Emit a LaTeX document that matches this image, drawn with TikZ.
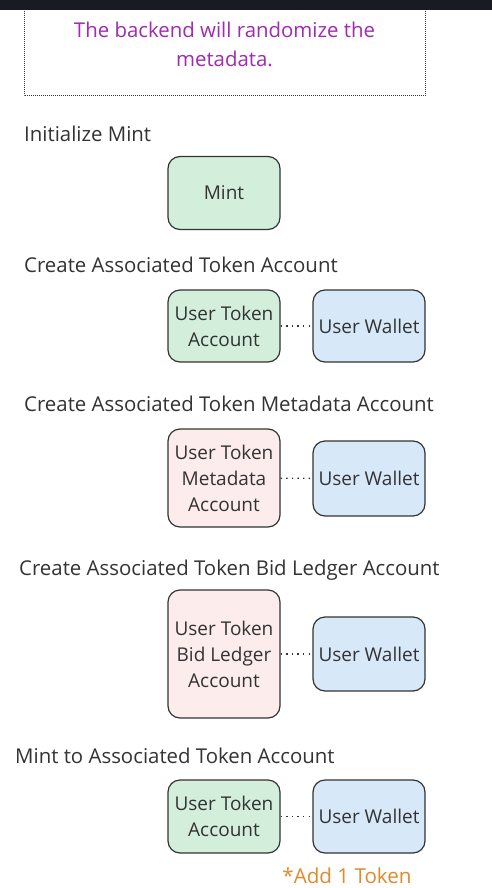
\documentclass[tikz,border=0pt]{standalone}
\usepackage{fontspec}
\setmainfont{Open Sans}
\definecolor{band}{HTML}{181B24}
\definecolor{txt}{HTML}{333333}
\definecolor{purp}{HTML}{A02AB0}
\definecolor{orng}{HTML}{E08A2C}
\definecolor{gfill}{HTML}{D3EFDC}
\definecolor{pfill}{HTML}{FDECEC}
\definecolor{bfill}{HTML}{D7E9F9}
\begin{document}
\begin{tikzpicture}[x=1pt,y=-1pt,
  hdr/.style={anchor=base west,inner sep=0pt,text=txt,font=\fontsize{20.4}{26}\selectfont},
  acct/.style={draw=txt,line width=1.2pt,rounded corners=12pt,minimum width=112pt,align=center,text=txt,inner sep=0pt,font=\fontsize{19}{26}\selectfont},
  green/.style={acct,fill=gfill},
  pink/.style={acct,fill=pfill},
  wallet/.style={acct,fill=bfill},
  link/.style={draw=txt,line width=1.4pt,dash pattern=on 1.4pt off 4.2pt}]
\useasboundingbox (0,0) rectangle (492,888);
\fill[white] (0,0) rectangle (492,888);
% note box
\draw[txt,line width=1pt,dash pattern=on 1pt off 1pt] (24,-5) rectangle (425,96);
\fill[band] (0,0) rectangle (492,10);
\node[anchor=base,inner sep=0pt,text=purp,font=\fontsize{20.4}{26}\selectfont] (n1) at (224.5,38) {The backend will randomize the};
\node[anchor=base,inner sep=0pt,text=purp,font=\fontsize{20.4}{26}\selectfont] (n2) at (224.5,67) {metadata.};
% step 1
\node[hdr] (h1) at (24,141) {Initialize Mint};
\node[green,minimum height=73pt] (mint) at (224,193) {Mint};
% step 2
\node[hdr] (h2) at (24,272) {Create Associated Token Account};
\node[green,minimum height=72pt] (uta1) at (224,326) {User Token\\Account};
\node[wallet,minimum height=72pt] (w1) at (369,326) {User Wallet};
\draw[link] (uta1) -- (w1);
% step 3
\node[hdr] (h3) at (24,411) {Create Associated Token Metadata Account};
\node[pink,minimum height=98pt] (meta) at (224,478) {User Token\\Metadata\\Account};
\node[wallet,minimum height=75pt] (w2) at (369,478.5) {User Wallet};
\draw[link] (meta) -- (w2);
% step 4
\node[hdr] (h4) at (19,575) {Create Associated Token Bid Ledger Account};
\node[pink,minimum height=128pt] (bid) at (224,654) {User Token\\Bid Ledger\\Account};
\node[wallet,minimum height=74pt] (w3) at (369,654) {User Wallet};
\draw[link] (bid) -- (w3);
% step 5
\node[hdr] (h5) at (15,763) {Mint to Associated Token Account};
\node[green,minimum height=73pt] (uta2) at (224,816.5) {User Token\\Account};
\node[wallet,minimum height=73pt] (w4) at (369,816.5) {User Wallet};
\draw[link] (uta2) -- (w4);
\node[anchor=base,inner sep=0pt,text=orng,font=\fontsize{20.6}{26}\selectfont] (add) at (347,883) {*Add 1 Token};
\end{tikzpicture}
\end{document}
